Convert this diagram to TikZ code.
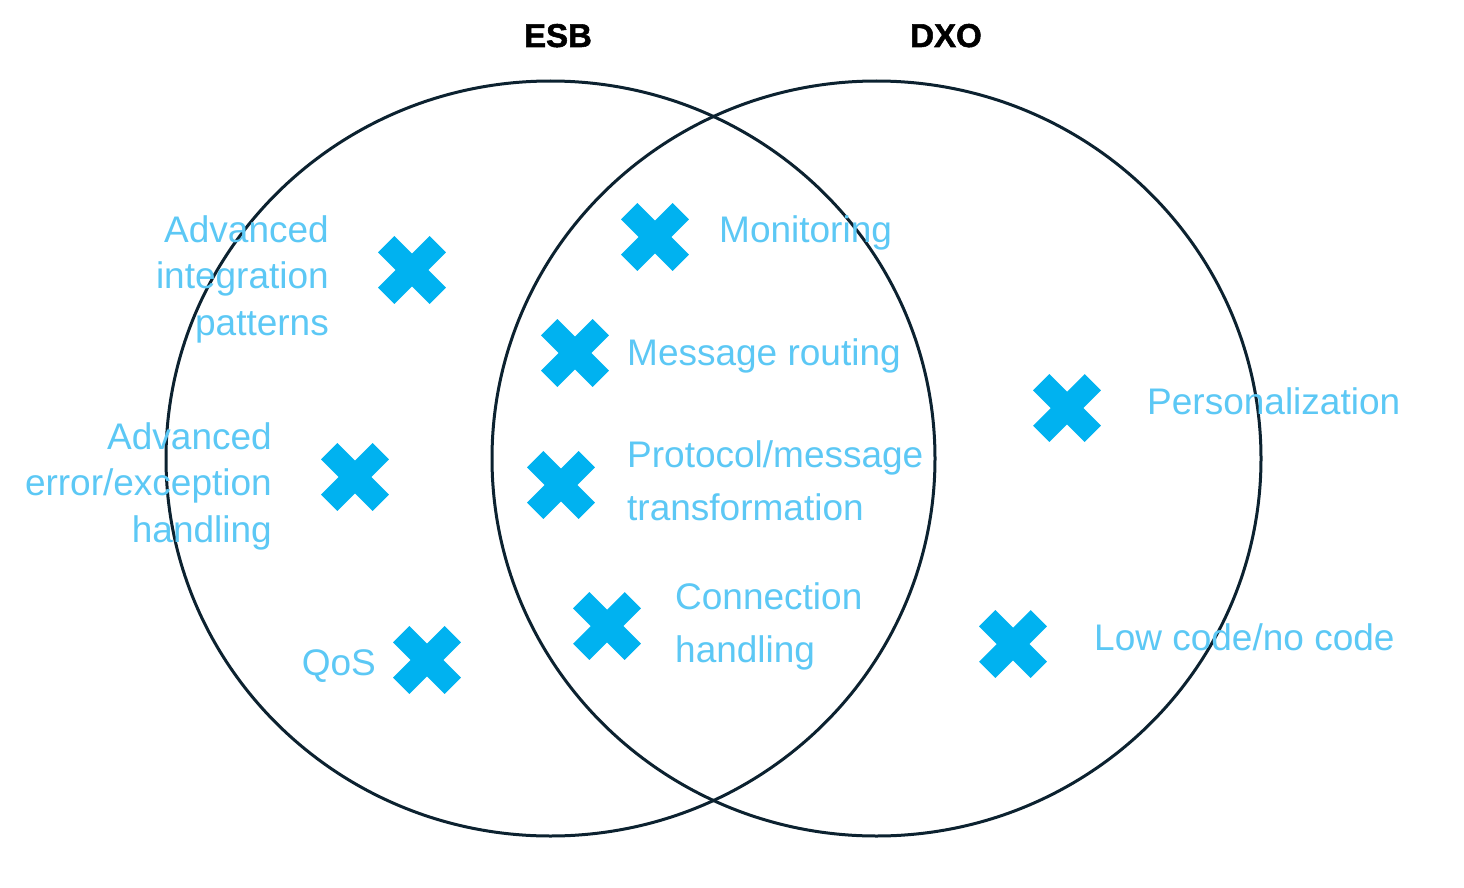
\documentclass[tikz,border=0pt]{standalone}
\usepackage{fontspec}
\setmainfont{Liberation Sans}
\newfontfamily\heavyfont{Liberation Sans Bold}[FakeBold=1.6]
\usetikzlibrary{shapes.geometric}
\definecolor{xblue}{RGB}{0,178,240}
\definecolor{tblue}{RGB}{92,200,245}
\definecolor{ring}{RGB}{12,34,48}
\begin{document}
\begin{tikzpicture}[x=1pt,y=-1pt,
  ringstyle/.style={draw=ring,line width=3pt},
  lbl/.style={text=tblue,inner sep=0pt,font=\fontsize{37}{46.5}\selectfont},
  lblw/.style={lbl,font=\fontsize{37}{53}\selectfont},
  ttl/.style={inner sep=0pt,font=\fontsize{33}{40}\selectfont\heavyfont,text=black},
  xmark/.pic={
    \fill[xblue,rotate=45] (-36.5,-11.5) rectangle (36.5,11.5);
    \fill[xblue,rotate=-45] (-36.5,-11.5) rectangle (36.5,11.5);
  }]
\useasboundingbox (0,0) rectangle (1464,888);
\fill[white] (0,0) rectangle (1464,888);
% circles
\node[ringstyle,ellipse,minimum width=769pt,minimum height=755pt,inner sep=0pt] (esb) at (550.5,458.5) {};
\node[ringstyle,ellipse,minimum width=769pt,minimum height=755pt,inner sep=0pt] (dxo) at (876.5,458.5) {};
% titles
\node[ttl,anchor=base] (tesb) at (558,47) {ESB};
\node[ttl,anchor=base] (tdxo) at (946,47) {DXO};
% crosses
\pic (x1) at (412,270) {xmark};
\pic (x2) at (655,237) {xmark};
\pic (x3) at (575,353) {xmark};
\pic (x4) at (355,477) {xmark};
\pic (x5) at (561,485) {xmark};
\pic (x6) at (607,626) {xmark};
\pic (x7) at (427,660) {xmark};
\pic (x8) at (1067,408) {xmark};
\pic (x9) at (1013,644) {xmark};
% labels
\node[lbl,align=right,anchor=east] (l1) at (329,279) {Advanced\\integration\\patterns};
\node[lbl,align=right,anchor=east] (l4) at (272,486) {Advanced\\error/exception\\handling};
\node[lbl,anchor=base east] (l7) at (376,675) {QoS};
\node[lbl,anchor=base west] (l2) at (719,242) {Monitoring};
\node[lbl,anchor=base west] (l3) at (627,365) {Message routing};
\node[lblw,align=left,anchor=west] (l5) at (627,481) {Protocol/message\\transformation};
\node[lblw,align=left,anchor=west] (l6) at (675,626) {Connection\\handling};
\node[lbl,anchor=base west] (l8) at (1147,414) {Personalization};
\node[lbl,anchor=base west] (l9) at (1094,650) {Low code/no code};
\end{tikzpicture}
\end{document}
